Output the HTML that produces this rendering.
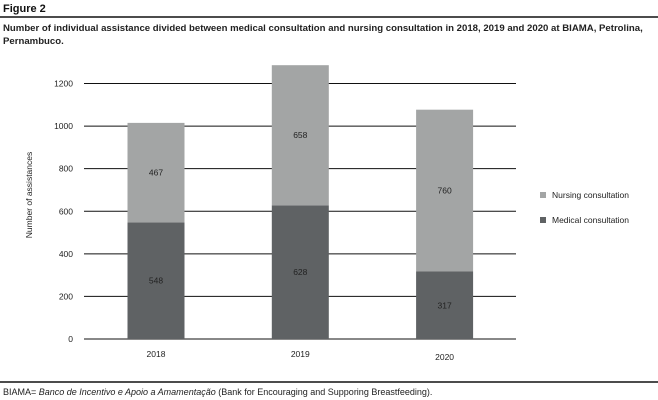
<!DOCTYPE html>
<html><head><meta charset="utf-8"><style>
body{margin:0;background:#fff;}
svg{display:block;font-family:"Liberation Sans",sans-serif;}
</style></head><body>
<svg width="658" height="400" viewBox="0 0 658 400">
<text x="3" y="12" font-size="11" font-weight="bold" fill="#111">Figure 2</text>
<line x1="0" y1="17" x2="658" y2="17" stroke="#111" stroke-width="1.5"/>
<text x="3" y="31" font-size="9.6" font-weight="bold" fill="#222">Number of individual assistance divided between medical consultation and nursing consultation in 2018, 2019 and 2020 at BIAMA, Petrolina,</text>
<text x="3" y="44" font-size="9.6" font-weight="bold" fill="#222">Pernambuco.</text>
<g id="chart"></g>
<text transform="translate(32,195) rotate(-90)" text-anchor="middle" font-size="8.5" fill="#222">Number of assistances</text>
<rect x="540" y="192" width="6" height="6" fill="#a3a5a5"/>
<text x="552" y="198" font-size="8.5" fill="#222">Nursing consultation</text>
<rect x="540" y="217" width="6" height="6" fill="#5f6264"/>
<text x="552" y="223" font-size="8.5" fill="#222">Medical consultation</text>
<line x1="0" y1="382" x2="658" y2="382" stroke="#111" stroke-width="1.5"/>
<text x="3" y="395" font-size="9" fill="#222">BIAMA= <tspan font-style="italic">Banco de Incentivo e Apoio a Amamentação</tspan> (Bank for Encouraging and Supporing Breastfeeding).</text>
</svg>
<script>
const categories=["2018","2019","2020"];
const medical=[548,628,317];
const nursing=[467,658,760];
const yTicks=[0,200,400,600,800,1000,1200];
const NS="http://www.w3.org/2000/svg";
const g=document.getElementById("chart");
const y0=339,yPer=255.5/1200,xL=84,xR=516,bw=57;
const y=v=>y0-v*yPer;
const xc=i=>156+i*144.3;
function mk(t,a){const e=document.createElementNS(NS,t);for(const k in a)e.setAttribute(k,a[k]);g.appendChild(e);return e;}
yTicks.forEach(v=>{
 const l=mk("line",{x1:xL,x2:xR,y1:y(v),y2:y(v),stroke:"#111","stroke-width":1});
 
 
 const t=mk("text",{x:73,y:y(v)+3,"text-anchor":"end","font-size":8.5,fill:"#222"});
 t.textContent=v;
 
 
});
categories.forEach((c,i)=>{
 const m=mk("rect",{x:xc(i)-bw/2,y:y(medical[i]),width:bw,height:medical[i]*yPer,fill:"#5f6264"});
 
 
 const n=mk("rect",{x:xc(i)-bw/2,y:y(medical[i]+nursing[i]),width:bw,height:nursing[i]*yPer,fill:"#a3a5a5"});
 
 
 const ml=mk("text",{x:xc(i),y:y(medical[i]/2)+3,"text-anchor":"middle","font-size":8.5,fill:"#222"});
 ml.textContent=medical[i];
 
 
 const nl=mk("text",{x:xc(i),y:y(medical[i]+nursing[i]/2)+3,"text-anchor":"middle","font-size":8.5,fill:"#222"});
 nl.textContent=nursing[i];
 
 
 const xl=mk("text",{x:xc(i),y:i==2?360:357,"text-anchor":"middle","font-size":8.5,fill:"#222"});
 xl.textContent=c;
 
 
});
</script>
</body></html>
